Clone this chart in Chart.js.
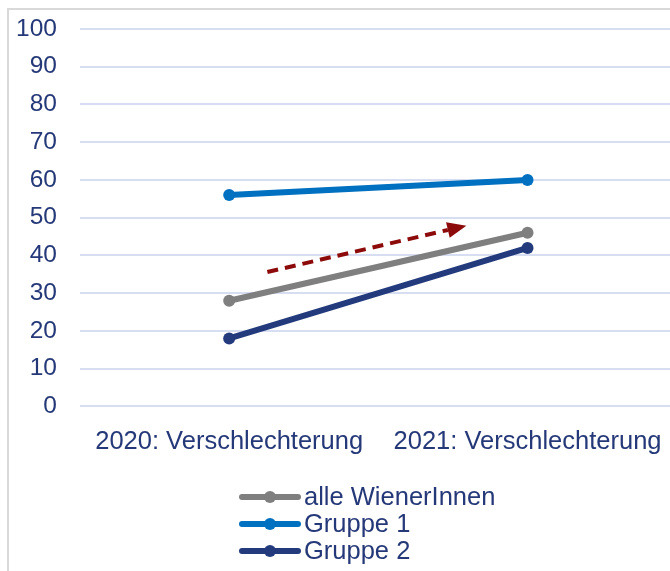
<!DOCTYPE html>
<html>
<head>
<meta charset="utf-8">
<script src="https://cdn.jsdelivr.net/npm/chart.js@4/dist/chart.umd.min.js"></script>
<style>
  html, body { margin: 0; padding: 0; background: #fff; overflow: hidden; }
  #wrap { position: relative; width: 670px; height: 571px; overflow: hidden; }
  #frame { position: absolute; left: 7px; top: 8px; width: 700px; height: 600px;
           border-top: 2px solid #d9d9d9; border-left: 2px solid #d9d9d9; }
  #box { position: absolute; left: 0; top: 0; width: 683px; height: 571px; }
</style>
</head>
<body>
<div id="wrap">
  <div id="frame"></div>
  <div id="box"><canvas id="chart"></canvas></div>
</div>
<script>
// chart data
const categories = ['2020: Verschlechterung', '2021: Verschlechterung'];
const seriesNames = ['alle WienerInnen', 'Gruppe 1', 'Gruppe 2'];
const alleValues = [28, 46];
const gruppe1Values = [56, 60];
const gruppe2Values = [18, 42];
const yTicks = [0, 10, 20, 30, 40, 50, 60, 70, 80, 90, 100];

// trend arrow in data space: [category index, value]
const arrowFrom = [0.128, 35.6];
const arrowTo = [0.795, 47.9];

const TEXT = '#253878';
const FONT = '"Liberation Sans", Arial, sans-serif';
const colors = ['#7f7f7f', '#0070c0', '#233a7c'];

// Arrow + legend drawn on top of the chart
const extras = {
  id: 'extras',
  afterDatasetsDraw(chart) {
    const c = chart.ctx;
    const xs = chart.scales.x, ys = chart.scales.y;
    const x1 = xs.getPixelForValue(arrowFrom[0]), y1 = ys.getPixelForValue(arrowFrom[1]);
    const x2 = xs.getPixelForValue(arrowTo[0]), y2 = ys.getPixelForValue(arrowTo[1]);
    const ang = Math.atan2(y2 - y1, x2 - x1);
    const head = 19, half = 8;
    c.save();
    c.strokeStyle = '#8c0a0a';
    c.fillStyle = '#8c0a0a';
    c.lineWidth = 4;
    c.setLineDash([11, 7]);
    c.beginPath();
    c.moveTo(x1, y1);
    c.lineTo(x2 - head * Math.cos(ang), y2 - head * Math.sin(ang));
    c.stroke();
    c.setLineDash([]);
    c.beginPath();
    c.moveTo(x2, y2);
    c.lineTo(x2 - head * Math.cos(ang) + half * Math.sin(ang), y2 - head * Math.sin(ang) - half * Math.cos(ang));
    c.lineTo(x2 - head * Math.cos(ang) - half * Math.sin(ang), y2 - head * Math.sin(ang) + half * Math.cos(ang));
    c.closePath();
    c.fill();
    c.restore();
  },
  afterDraw(chart) {
    const c = chart.ctx;
    const left = 240, top = 497, rowH = 27;
    c.save();
    chart.data.datasets.forEach((ds, i) => {
      const y = top + i * rowH;
      c.strokeStyle = ds.borderColor;
      c.lineWidth = 6;
      c.lineCap = 'round';
      c.beginPath();
      c.moveTo(left + 2, y);
      c.lineTo(left + 58, y);
      c.stroke();
      c.fillStyle = ds.borderColor;
      c.beginPath();
      c.arc(left + 30, y, 6, 0, Math.PI * 2);
      c.fill();
      c.fillStyle = TEXT;
      c.font = '25.5px ' + FONT;
      c.textBaseline = 'middle';
      c.textAlign = 'left';
      c.fillText(ds.label, left + 64, y + 1);
    });
    c.restore();
  }
};

const ctx = document.getElementById('chart').getContext('2d');
const dataSets = [alleValues, gruppe1Values, gruppe2Values];

new Chart(ctx, {
  type: 'line',
  data: {
    labels: categories,
    datasets: seriesNames.map((name, i) => ({
      label: name,
      data: dataSets[i],
      borderColor: colors[i],
      backgroundColor: colors[i],
      borderWidth: 6,
      borderCapStyle: 'round',
      pointRadius: 6,
      pointHoverRadius: 6,
      pointBorderWidth: 0,
      fill: false,
      tension: 0
    }))
  },
  options: {
    responsive: true,
    maintainAspectRatio: false,
    animation: false,
    layout: { padding: { left: 17, top: 29, right: 0, bottom: 94 } },
    scales: {
      x: {
        offset: true,
        grid: { display: false, drawTicks: false },
        border: { display: false },
        ticks: { color: TEXT, font: { family: FONT, size: 25.5 }, padding: 20, maxRotation: 0 }
      },
      y: {
        min: 0,
        max: 100,
        afterBuildTicks(axis) { axis.ticks = yTicks.map(v => ({ value: v })); },
        afterFit(axis) { axis.width = 63; axis.paddingTop = 0; axis.paddingBottom = 0; },
        grid: { color: '#d8def1', lineWidth: 2, drawTicks: false },
        border: { display: false },
        ticks: { color: TEXT, font: { family: FONT, size: 24.5 }, padding: 23 }
      }
    },
    plugins: {
      legend: { display: false },
      tooltip: { enabled: false }
    }
  },
  plugins: [extras]
});
</script>
</body>
</html>
